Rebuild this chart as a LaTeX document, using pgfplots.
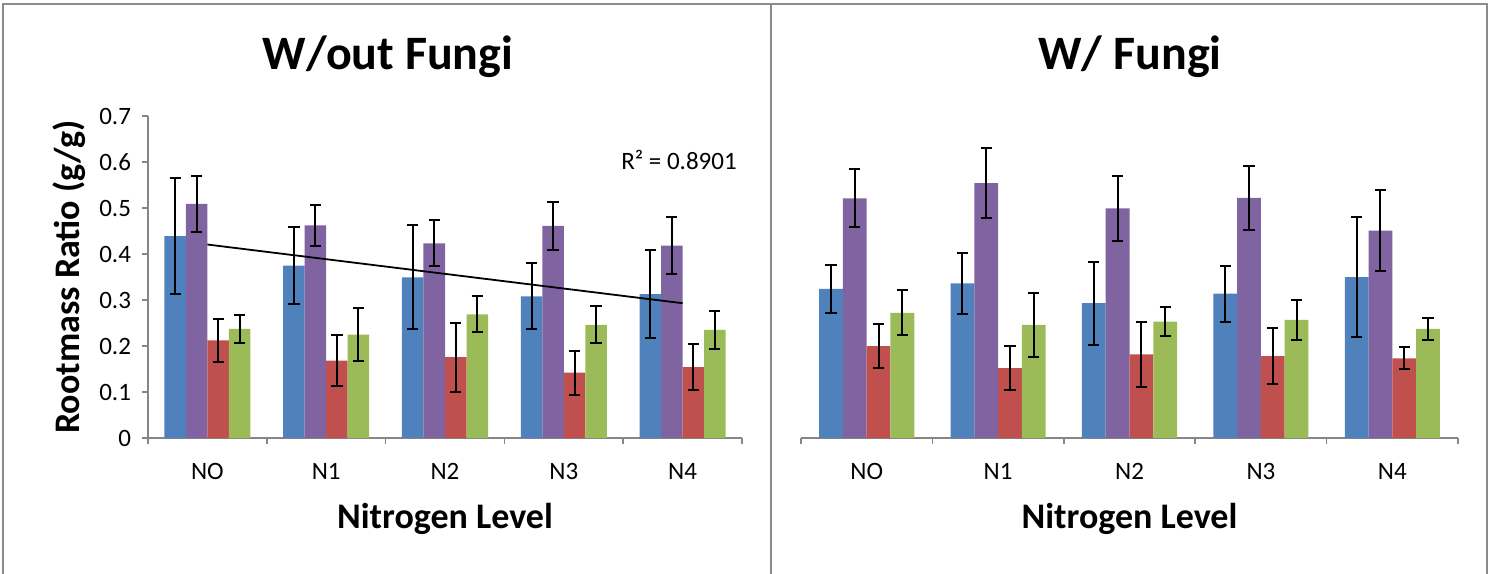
\documentclass[border=0pt]{standalone}
\usepackage{pgfplots}
\usepackage{pgfplotstable}
\pgfplotsset{compat=1.18}
\usepackage{fontspec}
\setmainfont{Carlito}

\definecolor{cblue}{HTML}{4F81BD}
\definecolor{cpurple}{HTML}{8064A2}
\definecolor{cred}{HTML}{C0504D}
\definecolor{cgreen}{HTML}{9BBB59}
\definecolor{axgray}{HTML}{868686}
\definecolor{framegray}{HTML}{8C8C8C}

\pgfplotstableread{
x a ea b eb c ec d ed
0 0.439 0.126 0.509 0.061 0.212 0.047 0.237 0.031
1 0.375 0.083 0.462 0.045 0.168 0.055 0.225 0.057
2 0.349 0.113 0.423 0.050 0.176 0.075 0.269 0.039
3 0.308 0.072 0.461 0.052 0.142 0.048 0.246 0.040
4 0.313 0.096 0.418 0.062 0.154 0.050 0.235 0.041
}\leftdata

\pgfplotstableread{
x a ea b eb c ec d ed
0 0.324 0.053 0.521 0.063 0.200 0.048 0.272 0.049
1 0.336 0.067 0.554 0.076 0.152 0.048 0.246 0.070
2 0.293 0.090 0.499 0.070 0.182 0.071 0.253 0.031
3 0.314 0.061 0.522 0.070 0.178 0.061 0.257 0.044
4 0.350 0.130 0.451 0.088 0.173 0.024 0.237 0.024
}\rightdata

\pgfplotsset{
  mybar/.style={draw=none,
    /pgfplots/error bars/y dir=both, /pgfplots/error bars/y explicit,
    /pgfplots/error bars/error bar style={black, line width=1pt},
    /pgfplots/error bars/error mark options={black, rotate=90, mark size=2.8pt, line width=1pt}},
  base/.style={
    scale only axis, height=161pt,
    ybar=0pt, bar width=0.181,
    ymin=0, ymax=0.7,
    xmin=-0.5, xmax=4.5,
    xtick={-0.5,0.5,...,4.5},
    x tick label as interval,
    xticklabels={NO,N1,N2,N3,N4},
    xticklabel style={font=\fontsize{12.5}{15}\selectfont, yshift=-6pt},
    xlabel={Nitrogen Level},
    xlabel style={font=\fontsize{18}{21}\selectfont\bfseries, yshift=-5pt},
    axis line style={axgray, line width=0.75pt},
    tick style={axgray, line width=0.75pt},
    tick align=outside,
    major tick length=3pt,
    clip=false,
  },
}

\begin{document}
\begin{tikzpicture}
\path[use as bounding box] (0,0) rectangle (746.5pt,286.5pt);
% panel frames
\draw[framegray, line width=1pt] (1.5pt,-1pt) -- (1.5pt,284.5pt) -- (743.5pt,284.5pt) -- (743.5pt,-1pt);
\draw[framegray, line width=1pt] (385.5pt,-1pt) -- (385.5pt,284.5pt);

\node[font=\fontsize{24}{28}\selectfont\bfseries] at (194pt,258pt) {W/out Fungi};
\node[font=\fontsize{24}{28}\selectfont\bfseries] at (565pt,258pt) {W/ Fungi};
\node[font=\fontsize{12.5}{15}\selectfont] at (339.5pt,206.5pt) {R² = 0.8901};

\begin{axis}[base,
  at={(74pt,67.5pt)}, anchor=south west, width=297pt,
  axis x line*=bottom, axis y line*=left,
  ytick={0,0.1,...,0.7},
  yticklabel style={font=\fontsize{12.5}{15}\selectfont, /pgf/number format/fixed, /pgf/number format/precision=1, /pgf/number format/assume math mode=true, xshift=-2pt},
  ylabel={Rootmass Ratio (g/g)},
  ylabel style={font=\fontsize{18}{21}\selectfont\bfseries},
]
\addplot[mybar, fill=cblue] table[x=x, y=a, y error=ea] {\leftdata};
\addplot[mybar, fill=cpurple] table[x=x, y=b, y error=eb] {\leftdata};
\addplot[mybar, fill=cred] table[x=x, y=c, y error=ec] {\leftdata};
\addplot[mybar, fill=cgreen] table[x=x, y=d, y error=ed] {\leftdata};
\addplot[black, line width=0.9pt, sharp plot, mark=none, bar shift=0pt] coordinates {(0,0.4206) (4,0.2930)};
\end{axis}

\begin{axis}[base,
  at={(400.5pt,67.5pt)}, anchor=south west, width=328.5pt,
  axis x line*=bottom, axis y line=none,
]
\addplot[mybar, fill=cblue] table[x=x, y=a, y error=ea] {\rightdata};
\addplot[mybar, fill=cpurple] table[x=x, y=b, y error=eb] {\rightdata};
\addplot[mybar, fill=cred] table[x=x, y=c, y error=ec] {\rightdata};
\addplot[mybar, fill=cgreen] table[x=x, y=d, y error=ed] {\rightdata};
\end{axis}
\end{tikzpicture}
\end{document}
